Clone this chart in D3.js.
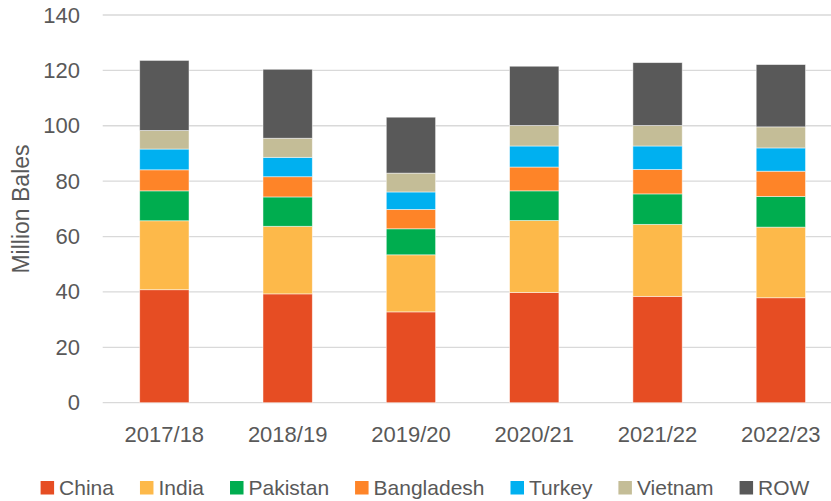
<!DOCTYPE html>
<html>
<head>
<meta charset="utf-8">
<script src="https://cdn.jsdelivr.net/npm/d3@7"></script>
<style>
  body { margin: 0; background: #fff; }
  svg { display: block; font-family: "Liberation Sans", Arial, sans-serif; }
</style>
</head>
<body>
<script>
// chart data
var seasons = ["2017/18", "2018/19", "2019/20", "2020/21", "2021/22", "2022/23"];
var countries = ["China", "India", "Pakistan", "Bangladesh", "Turkey", "Vietnam", "ROW"];
var china = [40.8, 39.3, 32.8, 39.8, 38.4, 37.9];
var india = [24.9, 24.4, 20.6, 26.0, 26.0, 25.5];
var pakistan = [10.8, 10.6, 9.4, 10.7, 11.0, 11.1];
var bangladesh = [7.6, 7.3, 7.0, 8.6, 8.8, 9.1];
var turkey = [7.5, 7.0, 6.3, 7.6, 8.5, 8.4];
var vietnam = [6.7, 6.9, 6.8, 7.4, 7.4, 7.6];
var row = [25.3, 24.9, 20.2, 21.4, 22.7, 22.5];
var yTicks = [0, 20, 40, 60, 80, 100, 120, 140];

var colors = ["#e64d23", "#fdb94a", "#00ad4f", "#fe8428", "#00b0f0", "#c4bd97", "#595959"];
var series = [china, india, pakistan, bangladesh, turkey, vietnam, row];

var width = 831, height = 501;
var svg = d3.select("body").append("svg")
    .attr("width", width)
    .attr("height", height);

// build table for stacking
var table = seasons.map(function (s, i) {
    var o = { season: s };
    countries.forEach(function (c, j) { o[c] = series[j][i]; });
    return o;
});
var stacked = d3.stack().keys(countries)(table);

var x = d3.scaleBand()
    .domain(seasons)
    .range([102.7, 842.5])
    .paddingInner(0.6)
    .paddingOuter(0.3);
var y = d3.scaleLinear()
    .domain([0, 140])
    .range([402.7, 15]);
var color = d3.scaleOrdinal().domain(countries).range(colors);

// gridlines
svg.append("g")
    .selectAll("line")
    .data(yTicks)
    .enter()
    .append("line")
    .attr("x1", 102.7)
    .attr("x2", 842.5)
    .attr("y1", function (d) { return y(d); })
    .attr("y2", function (d) { return y(d); })
    .attr("stroke", "#d9d9d9")
    .attr("stroke-width", 1.3);

// bars
svg.append("g")
    .selectAll("g")
    .data(stacked)
    .enter()
    .append("g")
    .attr("fill", function (d) { return color(d.key); })
    .selectAll("rect")
    .data(function (d) { return d; })
    .enter()
    .append("rect")
    .attr("x", function (d) { return x(d.data.season); })
    .attr("width", x.bandwidth())
    .attr("y", function (d) { return y(d[1]); })
    .attr("height", function (d) { return y(d[0]) - y(d[1]); })
    .attr("stroke", "#fff")
    .attr("stroke-opacity", 0.6)
    .attr("stroke-width", 0.8);

// y axis
var yAxis = svg.append("g")
    .attr("transform", "translate(80,0)")
    .call(d3.axisLeft(y).tickValues(yTicks).tickSize(0).tickPadding(0));
yAxis.select(".domain").remove();
yAxis.selectAll("text")
    .attr("fill", "#595959")
    .style("font-size", "22px")
    .attr("font-family", null);

// x axis
var xAxis = svg.append("g")
    .attr("transform", "translate(0,402.7)")
    .call(d3.axisBottom(x).tickSize(0).tickPadding(0));
xAxis.select(".domain").remove();
xAxis.selectAll("text")
    .attr("fill", "#595959")
    .style("font-size", "22px")
    .attr("font-family", null)
    .attr("dy", null)
    .attr("y", 39.5);

// y title
svg.append("text")
    .attr("transform", "translate(29,209) rotate(-90)")
    .attr("text-anchor", "middle")
    .attr("fill", "#595959")
    .style("font-size", "23px")
    .text("Million Bales");

// legend
var legend = svg.append("g");
var items = legend.selectAll("g")
    .data(countries)
    .enter()
    .append("g");
items.append("rect")
    .attr("y", 481)
    .attr("width", 13.5)
    .attr("height", 13.5)
    .attr("fill", function (d) { return color(d); });
items.append("text")
    .attr("x", 18.5)
    .attr("y", 494.5)
    .attr("fill", "#595959")
    .style("font-size", "21px")
    .text(function (d) { return d; });

var gap = 26;
var offsets = [];
var total = 0;
items.each(function () {
    var w = 18.5 + d3.select(this).select("text").node().getComputedTextLength();
    offsets.push(total);
    total += w + gap;
});
total -= gap;
var startX = 425 - total / 2;
items.attr("transform", function (d, i) { return "translate(" + (startX + offsets[i]) + ",0)"; });
</script>
</body>
</html>
